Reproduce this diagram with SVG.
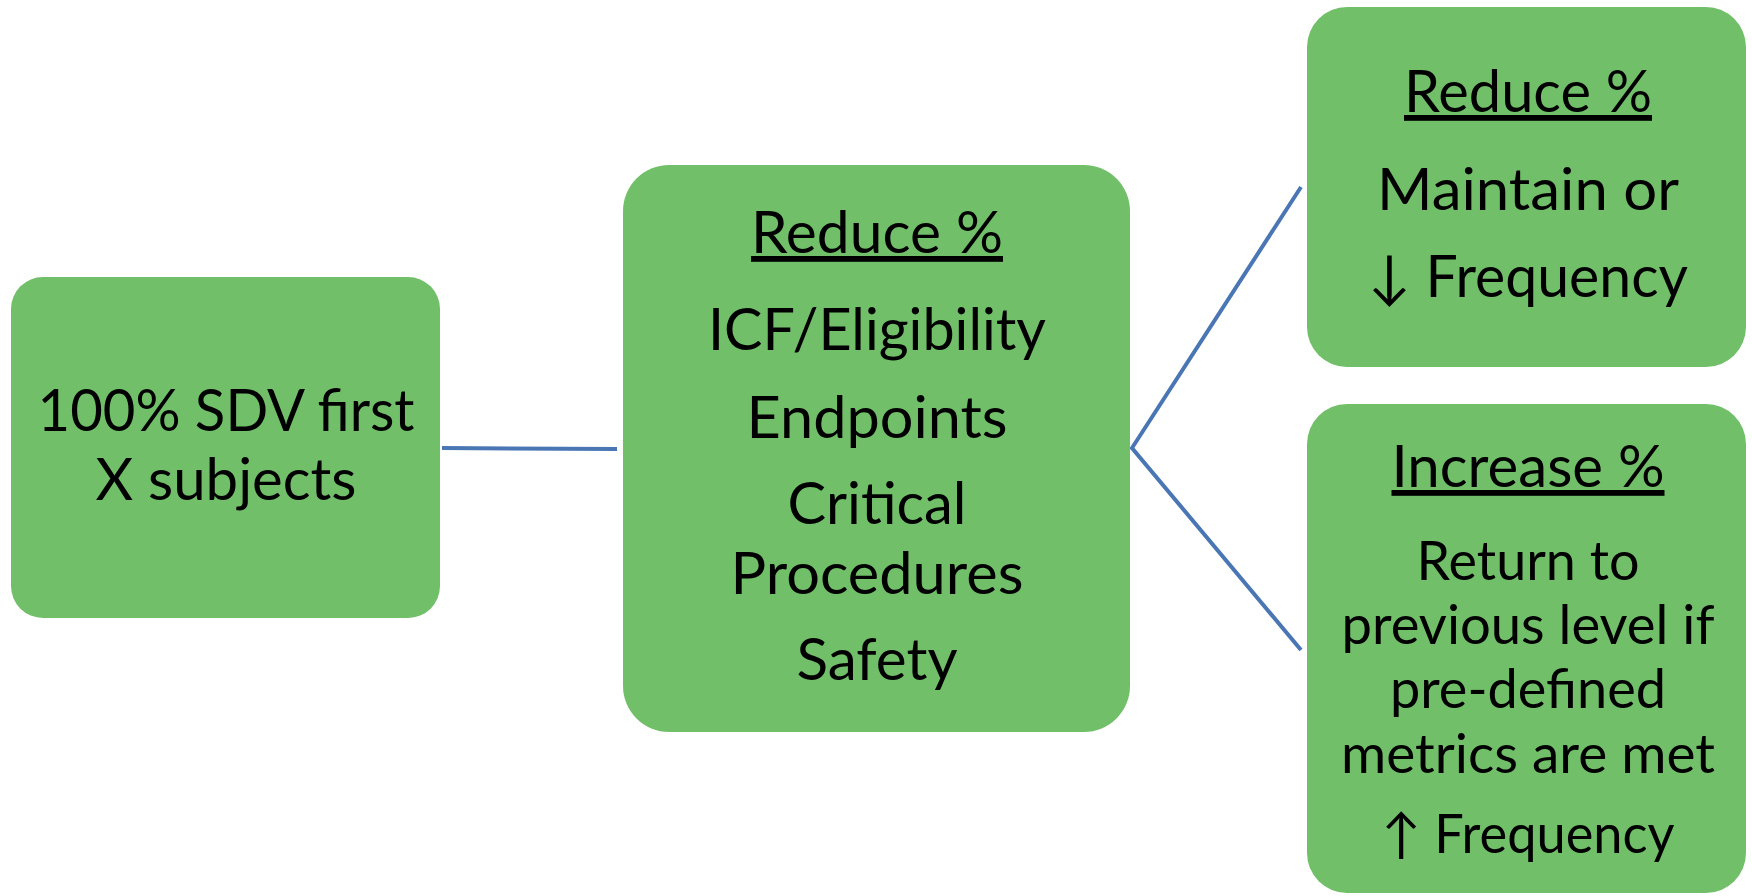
<svg xmlns="http://www.w3.org/2000/svg" width="1752" height="896" viewBox="0 0 1752 896">
<style>
.box{fill:#72bf6a;}
.t{font-family:Lato,"DejaVu Sans",sans-serif;font-size:58px;fill:#000;text-anchor:middle;}
.s{font-size:54px;}
.u{text-decoration:underline;}
.c{stroke:#4a77b4;stroke-width:4;fill:none;}
</style>
<rect width="1752" height="896" fill="#fff"/>
<g id="connectors">
<line class="c" x1="442" y1="448" x2="617" y2="449"/>
<polyline class="c" points="1301,187 1132,448 1301,650"/>
</g>
<g id="node1">
<rect class="box" x="11" y="277" width="429" height="341" rx="32"/>
<text class="t" x="226" y="431" textLength="377" lengthAdjust="spacingAndGlyphs">100% SDV first</text>
<text class="t" x="226" y="500" textLength="261" lengthAdjust="spacingAndGlyphs">X subjects</text>
</g>
<g id="node2">
<rect class="box" x="623" y="165" width="507" height="567" rx="46"/>
<text class="t u" x="877" y="253" textLength="252" lengthAdjust="spacingAndGlyphs">Reduce %</text>
<text class="t" x="877" y="350" textLength="338" lengthAdjust="spacingAndGlyphs">ICF/Eligibility</text>
<text class="t" x="877" y="438" textLength="261" lengthAdjust="spacingAndGlyphs">Endpoints</text>
<text class="t" x="877" y="524" textLength="179" lengthAdjust="spacingAndGlyphs">Critical</text>
<text class="t" x="877" y="594" textLength="293" lengthAdjust="spacingAndGlyphs">Procedures</text>
<text class="t" x="877" y="680" textLength="161" lengthAdjust="spacingAndGlyphs">Safety</text>
</g>
<g id="node3">
<rect class="box" x="1307" y="7" width="439" height="360" rx="40"/>
<text class="t u" x="1528" y="112" textLength="248" lengthAdjust="spacingAndGlyphs">Reduce %</text>
<text class="t" x="1528" y="210" textLength="302" lengthAdjust="spacingAndGlyphs">Maintain or</text>
<text class="t" x="1528" y="297" textLength="320" lengthAdjust="spacingAndGlyphs">↓ Frequency</text>
</g>
<g id="node4">
<rect class="box" x="1307" y="404" width="439" height="489" rx="40"/>
<text class="t u" x="1528" y="487" textLength="273" lengthAdjust="spacingAndGlyphs">Increase %</text>
<text class="t s" x="1528" y="580" textLength="223" lengthAdjust="spacingAndGlyphs">Return to</text>
<text class="t s" x="1528" y="644" textLength="373" lengthAdjust="spacingAndGlyphs">previous level if</text>
<text class="t s" x="1528" y="708" textLength="276" lengthAdjust="spacingAndGlyphs">pre-defined</text>
<text class="t s" x="1528" y="773" textLength="374" lengthAdjust="spacingAndGlyphs">metrics are met</text>
<text class="t s" x="1528" y="853" textLength="293" lengthAdjust="spacingAndGlyphs">↑ Frequency</text>
</g>
</svg>
